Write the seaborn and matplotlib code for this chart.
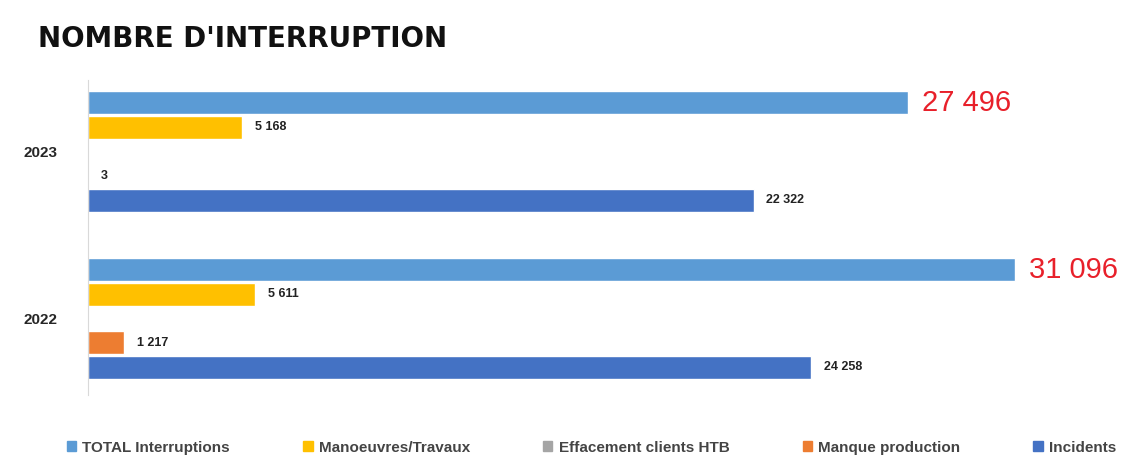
import matplotlib
matplotlib.use("Agg")
import matplotlib.pyplot as plt
import seaborn as sns
import pandas as pd

# ------------------------------
# DATA
# ------------------------------
years = ["2023", "2022"]
categories = ["TOTAL Interruptions", "Manoeuvres/Travaux", "Effacement clients HTB",
              "Manque production", "Incidents"]
total = [27496, 31096]
manoeuvres = [5168, 5611]
effacement = [0, 0]
manque = [3, 1217]
incidents = [22322, 24258]

colors = ["#5B9BD5", "#FFC000", "#A5A5A5", "#ED7D31", "#4472C4"]

series = [total, manoeuvres, effacement, manque, incidents]
rows = []
for cat, vals in zip(categories, series):
    for yr, v in zip(years, vals):
        rows.append({"annee": yr, "categorie": cat, "valeur": v})
df = pd.DataFrame(rows)


def fmt(v):
    return f"{v:,}".replace(",", " ")


# ------------------------------
# PLOT
# ------------------------------
sns.set_style("white")
plt.rcParams["font.family"] = ["Liberation Sans", "DejaVu Sans"]

fig = plt.figure(figsize=(11.42, 4.59), dpi=100)
ax = fig.add_axes([0.077, 0.139, 0.914, 0.687])

sns.barplot(data=df, x="valeur", y="annee", hue="categorie", order=years,
            hue_order=categories, palette=colors, orient="h", width=0.73,
            gap=0.06, saturation=1, ax=ax, legend=False)

for i, cont in enumerate(ax.containers):
    labels = [fmt(v) if v > 0 else "" for v in series[i]]
    if i == 0:
        ax.bar_label(cont, labels=labels, padding=10, color="#E8202A",
                     fontsize=21)
    else:
        ax.bar_label(cont, labels=labels, padding=9, color="#222222",
                     fontsize=9, fontweight="bold")

ax.set_xlim(0, 35000)
ax.set_ylim(1.46, -0.43)
ax.set_xticks([])
ax.set_xlabel("")
ax.set_ylabel("")
ax.tick_params(axis="y", length=0, pad=22, labelsize=11)
for lab in ax.get_yticklabels():
    lab.set_fontweight("bold")
for s in ["top", "right", "bottom"]:
    ax.spines[s].set_visible(False)
ax.spines["left"].set_color("#D9D9D9")
ax.spines["left"].set_linewidth(0.8)

fig.text(0.033, 0.915, "NOMBRE D'INTERRUPTION", fontsize=20, fontweight="heavy",
         color="#111111", va="center", family=["DejaVu Sans"])

handles = [plt.Rectangle((0, 0), 1, 1, color=c) for c in colors]
fig.legend(handles, categories, loc="center", bbox_to_anchor=(0.518, 0.025),
           ncol=5, frameon=False, prop={"size": 11, "weight": "bold"},
           handlelength=0.6, handleheight=0.6, handletextpad=0.4,
           columnspacing=4.8, labelcolor="#444444")

fig.savefig("out.png", dpi=100)
